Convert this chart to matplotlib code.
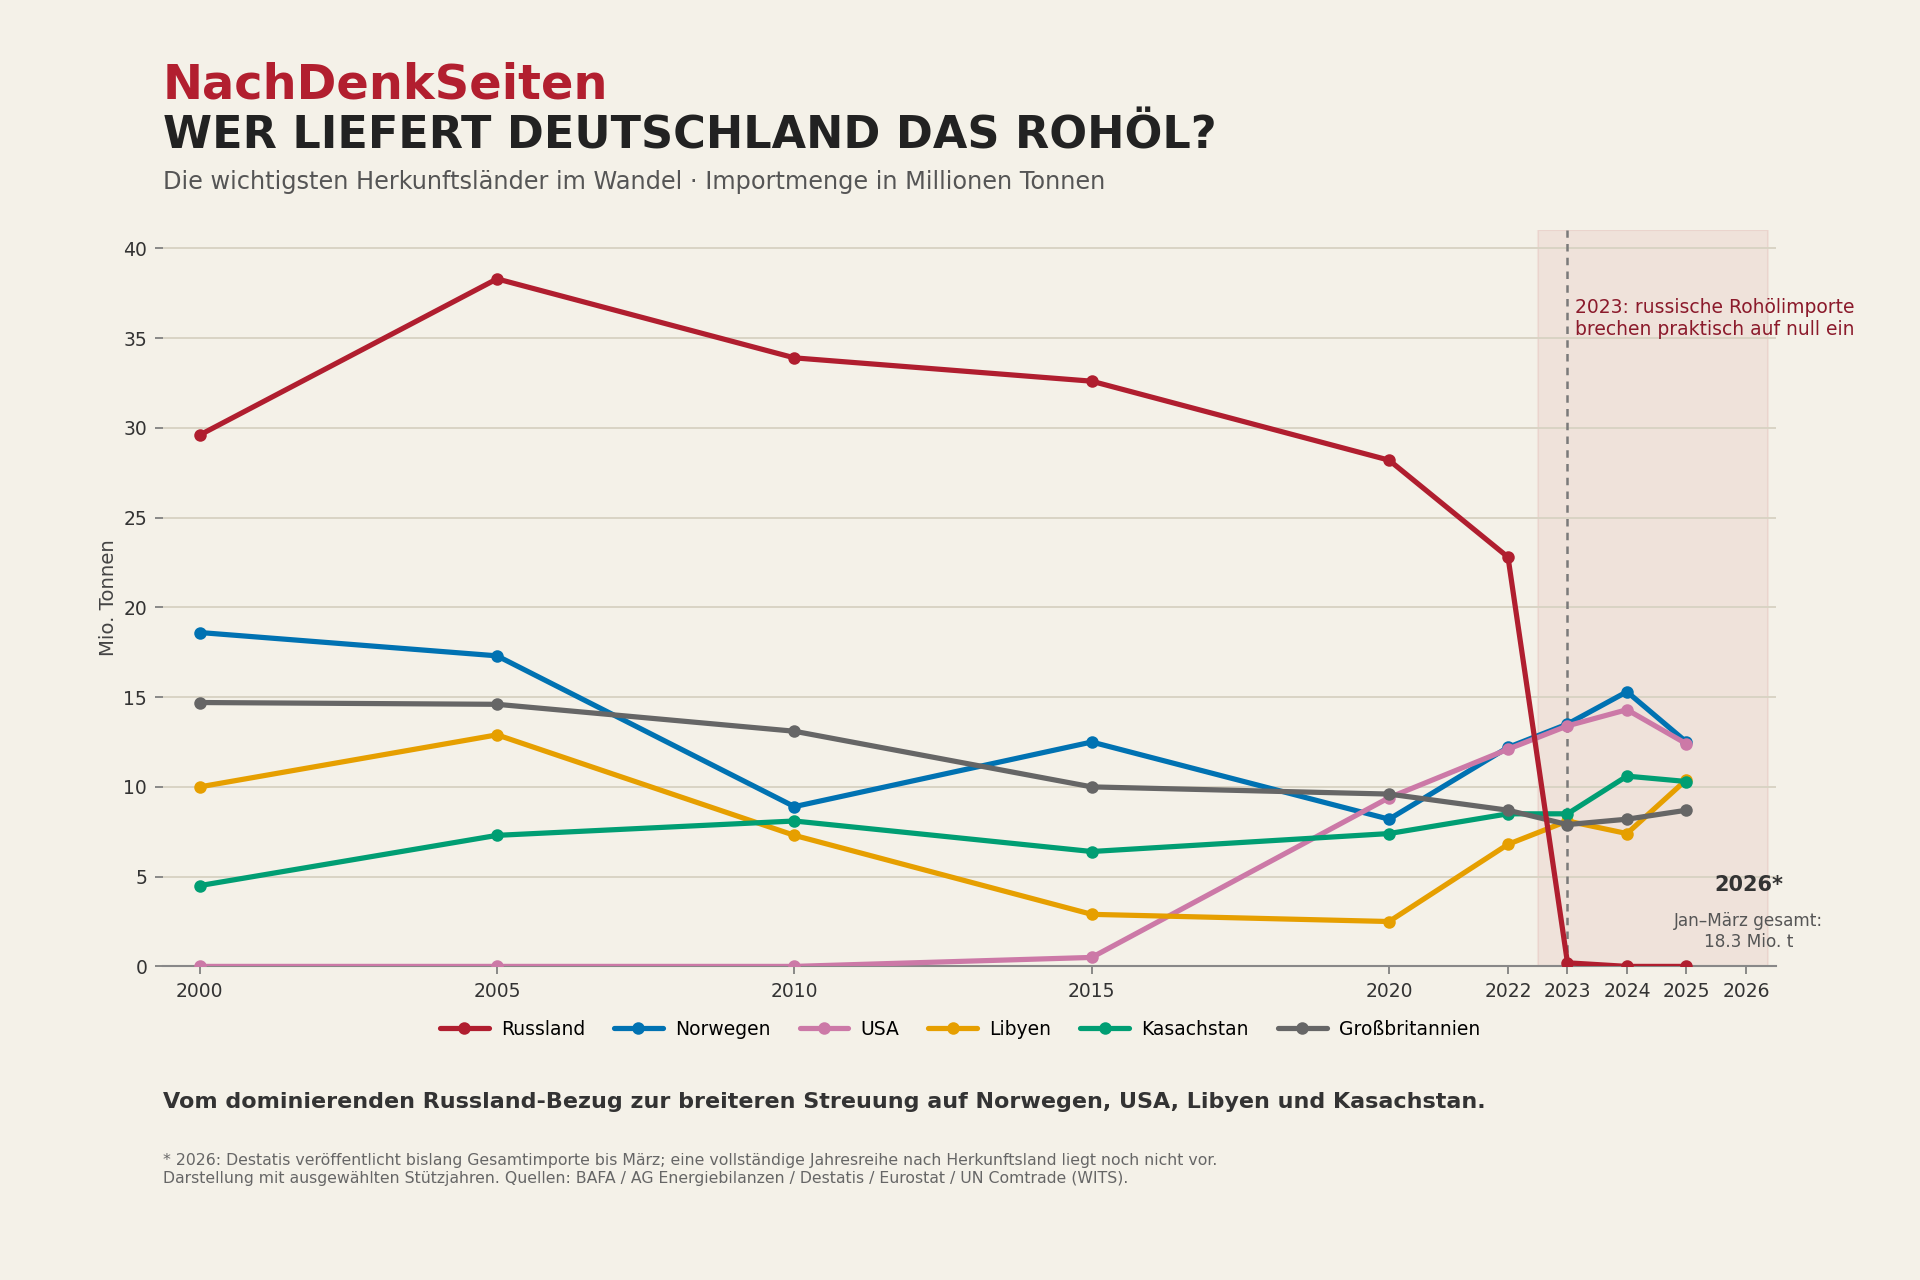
import matplotlib
matplotlib.use("Agg")
import matplotlib.pyplot as plt

years = [2000, 2005, 2010, 2015, 2020, 2022, 2023, 2024, 2025]
xtick_years = [2000, 2005, 2010, 2015, 2020, 2022, 2023, 2024, 2025, 2026]

countries = ["Russland", "Norwegen", "USA", "Libyen", "Kasachstan", "Großbritannien"]
russland = [29.6, 38.3, 33.9, 32.6, 28.2, 22.8, 0.2, 0.0, 0.0]
norwegen = [18.6, 17.3, 8.9, 12.5, 8.2, 12.2, 13.5, 15.3, 12.5]
usa = [0.0, 0.0, 0.0, 0.5, 9.4, 12.1, 13.4, 14.3, 12.4]
libyen = [10.0, 12.9, 7.3, 2.9, 2.5, 6.8, 8.1, 7.4, 10.4]
kasachstan = [4.5, 7.3, 8.1, 6.4, 7.4, 8.5, 8.5, 10.6, 10.3]
grossbritannien = [14.7, 14.6, 13.1, 10.0, 9.6, 8.7, 7.9, 8.2, 8.7]
series = [russland, norwegen, usa, libyen, kasachstan, grossbritannien]
colors = ["#B01E2F", "#0072B2", "#CC79A7", "#E69F00", "#009E73", "#666666"]

BG = "#F4F1E8"
plt.rcParams['font.family'] = ['DejaVu Sans']

fig = plt.figure(figsize=(12.8, 1280 / 150), dpi=150, facecolor=BG)
ax = fig.add_axes([0.0848, 0.245, 0.84, 0.575])
ax.set_facecolor(BG)

# shaded region and marker line
ax.axvspan(2022.5, 2026.38, color="#B01E2F", alpha=0.07, zorder=0.1, lw=1)
ax.axvline(2023, color="#7A7A7A", ls=(0, (3, 2.5)), lw=1.2, zorder=1)

for name, vals, c in zip(countries, series, colors):
    ax.plot(years, vals, color=c, lw=2.5, marker="o", ms=5, label=name,
            zorder=4 if name == "Russland" else 3, solid_capstyle="round")

ax.set_xlim(1999.38, 2026.5)
ax.set_ylim(0, 41)
ax.set_xticks(xtick_years)
ax.set_xticklabels([str(y) for y in xtick_years])
ax.set_yticks([0, 5, 10, 15, 20, 25, 30, 35, 40])
ax.tick_params(axis="both", labelsize=9, colors="#333333", length=4, width=0.8)
ax.tick_params(axis="both", color="#777777")
ax.set_axisbelow(True)
ax.yaxis.grid(True, color="#D8D3C3", lw=0.9)
for s in ["left", "right", "top"]:
    ax.spines[s].set_visible(False)
ax.spines["bottom"].set_color("#888888")
ax.spines["bottom"].set_linewidth(1.0)

fig.text(0.0567, 0.533, "Mio. Tonnen", rotation=90, ha="center", va="center",
         fontsize=9.5, color="#444444")

ax.text(2023.12, 37.25, "2023: russische Rohölimporte\nbrechen praktisch auf null ein",
        ha="left", va="top", fontsize=9, color="#8B1A2B", linespacing=1.2)
ax.text(2026.05, 4.55, "2026*", ha="center", va="center", fontsize=10,
        fontweight="bold", color="#333333")
ax.text(2026.05, 1.95, "Jan–März gesamt:\n18.3 Mio. t", ha="center", va="center",
        fontsize=8.1, color="#555555", linespacing=1.25)

# header
fig.text(0.0848, 0.923, "NachDenkSeiten", fontsize=23, fontweight="bold",
         color="#B21F2F", ha="left", va="baseline")
fig.text(0.0848, 0.884, "WER LIEFERT DEUTSCHLAND DAS ROHÖL?", fontsize=21.35,
         fontweight="bold", color="#222222", ha="left", va="baseline")
fig.text(0.0848, 0.852, "Die wichtigsten Herkunftsländer im Wandel · Importmenge in Millionen Tonnen",
         fontsize=11.5, color="#555555", ha="left", va="baseline")

handles, labels = ax.get_legend_handles_labels()
fig.legend(handles, labels, loc="center", bbox_to_anchor=(0.5, 0.196), ncol=6,
           frameon=False, fontsize=9, handlelength=2.6, columnspacing=1.55,
           handletextpad=0.65)

fig.text(0.0848, 0.134,
         "Vom dominierenden Russland-Bezug zur breiteren Streuung auf Norwegen, USA, Libyen und Kasachstan.",
         fontsize=10.7, fontweight="bold", color="#333333", ha="left", va="baseline")
fig.text(0.0848, 0.0995,
         "* 2026: Destatis veröffentlicht bislang Gesamtimporte bis März; eine vollständige Jahresreihe nach Herkunftsland liegt noch nicht vor.\n"
         "Darstellung mit ausgewählten Stützjahren. Quellen: BAFA / AG Energiebilanzen / Destatis / Eurostat / UN Comtrade (WITS).",
         fontsize=7.55, color="#666666", ha="left", va="top", linespacing=1.3)

fig.savefig("out.png", dpi=150, facecolor=BG)
